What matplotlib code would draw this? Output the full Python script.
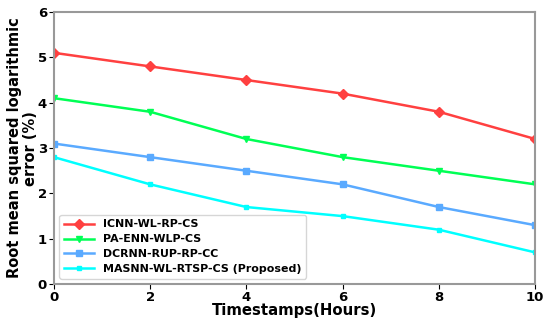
import matplotlib.pyplot as plt

hours = [0, 2, 4, 6, 8, 10]
icnn = [5.1, 4.8, 4.5, 4.2, 3.8, 3.2]
paenn = [4.1, 3.8, 3.2, 2.8, 2.5, 2.2]
dcrnn = [3.1, 2.8, 2.5, 2.2, 1.7, 1.3]
masnn = [2.8, 2.2, 1.7, 1.5, 1.2, 0.7]
labels = ["ICNN-WL-RP-CS", "PA-ENN-WLP-CS", "DCRNN-RUP-RP-CC",
          "MASNN-WL-RTSP-CS (Proposed)"]

fig, ax = plt.subplots(figsize=(5.5, 3.24), dpi=100)
ax.plot(hours, icnn, color="#ff4040", marker="D", ms=5, lw=1.8, label=labels[0])
ax.plot(hours, paenn, color="#00ff55", marker="v", ms=5, lw=1.8, label=labels[1])
ax.plot(hours, dcrnn, color="#5aaaff", marker="s", ms=5, lw=1.8, label=labels[2])
ax.plot(hours, masnn, color="#00ffff", marker="s", ms=3.5, lw=1.8, label=labels[3])

ax.set_xlim(0, 10)
ax.set_ylim(0, 6)
ax.set_xticks(hours)
for s in ax.spines.values():
    s.set_color("#999999")
    s.set_linewidth(1.5)
ax.tick_params(labelsize=9.5, pad=1.5)
for t in ax.get_xticklabels() + ax.get_yticklabels():
    t.set_fontweight("bold")
ax.set_xlabel("Timestamps(Hours)", fontsize=10.7, fontweight="bold", labelpad=-1)
ax.set_ylabel("Root mean squared logarithmic\nerror (%)", fontsize=10.5,
              fontweight="bold", labelpad=0, linespacing=1.1)
ax.legend(loc="lower left", prop={"weight": "bold", "size": 7.9},
          handlelength=2.8, labelspacing=0.45)
fig.subplots_adjust(left=0.098, right=0.973, top=0.963, bottom=0.123)
fig.savefig("out.png")
